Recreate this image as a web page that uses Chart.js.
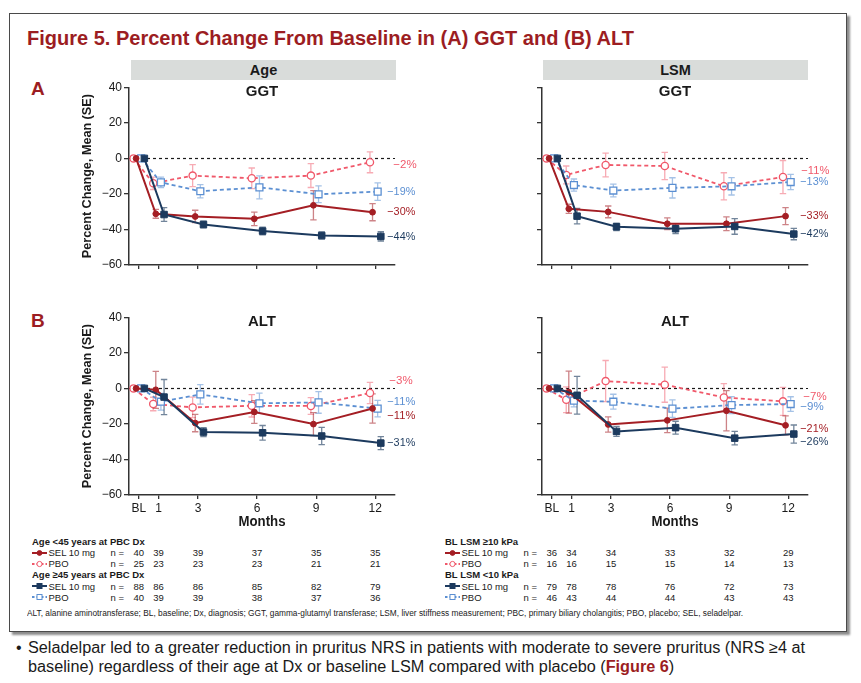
<!DOCTYPE html>
<html>
<head>
<meta charset="utf-8">
<script src="https://cdn.jsdelivr.net/npm/chart.js@4.4.0/dist/chart.umd.min.js"></script>
<style>
html,body{margin:0;padding:0;background:#fff;width:861px;height:683px;overflow:hidden;font-family:"Liberation Sans",Arial,sans-serif;}
#page{position:relative;width:861px;height:683px;}
.abs{position:absolute;white-space:nowrap;}
#box{position:absolute;left:9px;top:13px;width:838px;height:619px;box-sizing:border-box;border:1.6px solid #4a4a4a;box-shadow:3px 3px 2px rgba(0,0,0,0.45);background:#fff;}
.hdr{position:absolute;height:20px;background:#d9dcda;font:bold 14.5px "Liberation Sans",Arial,sans-serif;line-height:20px;text-align:center;color:#1a1a1a;}
.mk{position:absolute;line-height:0;}
.mk svg{display:block;}
</style>
</head>
<body>
<div id="page"><div id="box"></div></div>
<script>
// ---------------- DATA ----------------
const months = [0, 1, 3, 6, 9, 12];
const xTickLabels = ['BL', '1', '3', '6', '9', '12'];
const yTicks = [40, 20, 0, -20, -40, -60];

// (A) GGT by Age
const ggtAgeSelLt45   = [0, -31.2, -32.7, -34.0, -26.4, -30.3];
const ggtAgeSelLt45Se = [0, 2.5, 3.5, 3.8, 8.2, 4.8];
const ggtAgePboLt45   = [0, -14.0, -9.7, -11.2, -9.7, -2.2];
const ggtAgePboLt45Se = [0, 3.5, 6.2, 5.8, 6.7, 5.9];
const ggtAgeSelGe45   = [0, -31.6, -37.2, -40.9, -43.4, -43.9];
const ggtAgeSelGe45Se = [0, 3.9, 1.9, 2.2, 2.0, 2.6];
const ggtAgePboGe45   = [0, -13.5, -18.5, -16.3, -20.2, -18.7];
const ggtAgePboGe45Se = [0, 3.0, 3.7, 6.5, 4.7, 4.9];
const ggtAgeEndLabels = ['−30%', '−2%', '−44%', '−19%']; // selLt45, pboLt45, selGe45, pboGe45

// (A) GGT by LSM
const ggtLsmSelGe10   = [0, -28.4, -30.1, -36.8, -36.8, -32.5];
const ggtLsmSelGe10Se = [0, 2.6, 3.3, 3.3, 3.9, 4.8];
const ggtLsmPboGe10   = [0, -9.3, -3.7, -4.3, -15.7, -10.5];
const ggtLsmPboGe10Se = [0, 5.0, 6.7, 7.7, 7.6, 9.3];
const ggtLsmSelLt10   = [0, -32.5, -38.5, -39.6, -38.3, -42.6];
const ggtLsmSelLt10Se = [0, 4.4, 2.1, 2.7, 4.4, 3.2];
const ggtLsmPboLt10   = [0, -15.0, -18.1, -16.6, -15.7, -13.3];
const ggtLsmPboLt10Se = [0, 3.4, 3.6, 5.7, 4.9, 4.3];
const ggtLsmEndLabels = ['−33%', '−11%', '−42%', '−13%'];

// (B) ALT by Age
const altAgeSelLt45   = [0, -0.8, -19.5, -13.3, -20.1, -11.3];
const altAgeSelLt45Se = [0, 10.4, 4.9, 6.4, 6.5, 8.2];
const altAgePboLt45   = [0, -8.8, -10.7, -9.8, -9.9, -2.6];
const altAgePboLt45Se = [0, 3.8, 5.8, 6.3, 4.7, 6.0];
const altAgeSelGe45   = [0, -4.9, -24.6, -25.0, -26.8, -30.8];
const altAgeSelGe45Se = [0, 9.9, 2.5, 4.1, 4.9, 3.7];
const altAgePboGe45   = [0, -7.5, -3.4, -8.4, -7.9, -11.4];
const altAgePboGe45Se = [0, 4.7, 5.5, 5.7, 6.1, 4.6];
const altAgeEndLabels = ['−11%', '−3%', '−31%', '−11%'];

// (B) ALT by LSM
const altLsmSelGe10   = [0, -2.1, -20.3, -18.0, -12.6, -20.8];
const altLsmSelGe10Se = [0, 11.8, 4.3, 6.9, 11.3, 5.3];
const altLsmPboGe10   = [0, -6.4, 4.1, 2.1, -5.1, -7.3];
const altLsmPboGe10Se = [0, 7.3, 11.6, 9.9, 7.8, 7.9];
const altLsmSelLt10   = [0, -3.9, -24.2, -22.1, -28.0, -25.7];
const altLsmSelLt10Se = [0, 10.6, 2.8, 3.6, 3.8, 5.1];
const altLsmPboLt10   = [0, -6.9, -7.5, -11.4, -9.4, -8.8];
const altLsmPboLt10Se = [0, 3.5, 4.2, 4.9, 4.8, 4.1];
const altLsmEndLabels = ['−21%', '−7%', '−26%', '−9%'];

// Patients at risk (n)
const nAgeLt45Sel = [40, 39, 39, 37, 35, 35];
const nAgeLt45Pbo = [25, 23, 23, 23, 21, 21];
const nAgeGe45Sel = [88, 86, 86, 85, 82, 79];
const nAgeGe45Pbo = [40, 39, 39, 38, 37, 36];
const nLsmGe10Sel = [36, 34, 34, 33, 32, 29];
const nLsmGe10Pbo = [16, 16, 15, 15, 14, 13];
const nLsmLt10Sel = [79, 78, 78, 76, 72, 73];
const nLsmLt10Pbo = [46, 43, 44, 44, 43, 43];

// ---------------- STYLE ----------------
const FONT = '"Liberation Sans", Arial, sans-serif';
const DARKRED = '#9c1d22';
const STY = {
  selNavy: {color:'#1c3a5e', err:'rgba(28,58,94,0.62)', point:'rect',   r:4.6, fill:true,  dash:[],    dx: 0.28, lw:2},
  selRed:  {color:'#a41e24', err:'rgba(164,30,36,0.55)', point:'circle', r:2.9, fill:true,  dash:[],    dx:-0.14, lw:2},
  pboBlue: {color:'#5b8fd2', err:'rgba(91,143,210,0.55)', point:'rect',  r:4.9, fill:false, dash:[4,3], dx: 0.12, lw:1.8},
  pboPink: {color:'#f0586a', err:'rgba(240,88,106,0.5)', point:'circle', r:3.6, fill:false, dash:[4,3], dx:-0.27, lw:1.8}
};

Chart.defaults.font.family = FONT;
const page = document.getElementById('page');

function addText(text, x, cy, o = {}) {
  const size = o.size || 12;
  const el = document.createElement('div');
  el.className = 'abs';
  el.style.font = `${o.bold ? 'bold ' : ''}${size}px ${FONT}`;
  el.style.lineHeight = size + 'px';
  el.style.color = o.color || '#1a1a1a';
  el.style.top = (cy - size / 2) + 'px';
  if (o.html) el.innerHTML = text; else el.textContent = text;
  page.appendChild(el);
  const w = el.getBoundingClientRect().width;
  let sx = o.scale || 1;
  if (o.fitW) sx = o.fitW / w;
  let left = x;
  if (o.align === 'center') left = x - w * sx / 2;
  else if (o.align === 'right') left = x - w * sx;
  el.style.left = left + 'px';
  if (sx !== 1) { el.style.transformOrigin = '0 50%'; el.style.transform = `scaleX(${sx})`; }
  el._sx = sx;
  return el;
}

// ---------------- STATIC TEXT ----------------
addText('Figure 5. Percent Change From Baseline in (A) GGT and (B) ALT', 27, 38, {size:20, bold:true, color:DARKRED, fitW:607});
addText('A', 31, 88.5, {size:19, bold:true, color:DARKRED});
addText('B', 31, 320, {size:19, bold:true, color:DARKRED});

function header(text, l, r) {
  const d = document.createElement('div');
  d.className = 'hdr';
  d.style.left = l + 'px'; d.style.top = '60px'; d.style.width = (r - l) + 'px';
  d.textContent = text;
  page.appendChild(d);
}
header('Age', 131, 396);
header('LSM', 543, 808);

// ---------------- PLUGINS ----------------
const overlay = {
  id: 'overlay',
  beforeDatasetsDraw(chart, args, o) {
    const {ctx, chartArea: a, scales: {x, y}} = chart;
    ctx.save();
    ctx.strokeStyle = '#1a1a1a'; ctx.lineWidth = 1.2; ctx.setLineDash([3, 3]);
    const y0 = Math.round(y.getPixelForValue(0)) + 0.5;
    ctx.beginPath(); ctx.moveTo(a.left, y0); ctx.lineTo(a.right, y0); ctx.stroke();
    ctx.setLineDash([]);
    // error bars (drawn back to front)
    for (let di = chart.data.datasets.length - 1; di >= 0; di--) {
      const ds = chart.data.datasets[di];
      ctx.strokeStyle = ds.errColor; ctx.lineWidth = 1.3;
      ds.data.forEach((p, i) => {
        const e = ds.se[i];
        if (!e) return;
        const px = x.getPixelForValue(p.x);
        const y1 = y.getPixelForValue(p.y + e), y2 = y.getPixelForValue(p.y - e);
        ctx.beginPath();
        ctx.moveTo(px, y1); ctx.lineTo(px, y2);
        ctx.moveTo(px - 3.2, y1); ctx.lineTo(px + 3.2, y1);
        ctx.moveTo(px - 3.2, y2); ctx.lineTo(px + 3.2, y2);
        ctx.stroke();
      });
    }
    ctx.restore();
  },
  afterDraw(chart, args, o) {
    const {ctx, chartArea: a, scales: {x, y}} = chart;
    const cx = (a.left + a.right) / 2;
    ctx.save();
    ctx.fillStyle = '#1a1a1a';
    ctx.textAlign = 'center'; ctx.textBaseline = 'middle';
    ctx.font = `bold 15px ${FONT}`;
    ctx.fillText(o.title, cx, a.top + 5, 33);
    if (o.yTitle) {
      ctx.save();
      ctx.translate(o.yTitleX, (a.top + a.bottom) / 2);
      ctx.rotate(-Math.PI / 2);
      ctx.font = `bold 13px ${FONT}`;
      ctx.fillText(o.yTitle, 0, 0, 164);
      ctx.restore();
    }
    if (o.xTitle) {
      ctx.font = `bold 14px ${FONT}`;
      ctx.fillText(o.xTitle, cx, a.bottom + 27, 47);
    }
    // end labels
    ctx.textAlign = 'left';
    ctx.font = `11.5px ${FONT}`;
    const lastX = x.getPixelForValue(months[months.length - 1]);
    chart.data.datasets.forEach(ds => {
      const last = ds.data[ds.data.length - 1];
      const n = (o.nudge && o.nudge[ds.sty]) || {};
      ctx.fillStyle = ds.borderColor;
      ctx.fillText(ds.endLabel, lastX + 12 + (n.dx || 0), y.getPixelForValue(last.y) + (n.dy || 0), 28);
    });
    ctx.restore();
  }
};

// ---------------- CHARTS ----------------
function makeChart(p) {
  const c = document.createElement('canvas');
  c.width = p.w; c.height = p.h;
  c.style.cssText = `position:absolute;left:${p.left}px;top:${p.top}px;width:${p.w}px;height:${p.h}px;`;
  page.appendChild(c);
  const datasets = p.series.map(s => {
    const st = STY[s.sty];
    return {
      sty: s.sty,
      data: months.map((m, i) => ({x: m + st.dx, y: s.v[i]})),
      se: s.e,
      endLabel: s.label,
      errColor: st.err,
      borderColor: st.color,
      backgroundColor: st.color,
      borderWidth: st.lw,
      borderDash: st.dash,
      pointStyle: st.point,
      pointRadius: st.r,
      pointBorderWidth: st.fill ? 1 : 1.3,
      pointBorderColor: st.color,
      pointBackgroundColor: st.fill ? st.color : '#ffffff',
      tension: 0,
      fill: false
    };
  });
  const chart = new Chart(c, {
    type: 'line',
    data: {datasets},
    options: {
      responsive: false, animation: false, devicePixelRatio: 1,
      layout: {padding: {top: p.padTop, right: 45, bottom: 0, left: 0}},
      plugins: {legend: {display: false}, tooltip: {enabled: false}, overlay: p.overlay},
      scales: {
        x: {
          type: 'linear', min: -0.5, max: 13,
          afterBuildTicks: s => { s.ticks = months.map(v => ({value: v})); },
          afterFit: s => { s.height = p.xH; },
          grid: {drawOnChartArea: false, drawTicks: true, tickLength: 4, color: '#333', lineWidth: 1.3},
          border: {display: true, color: '#333', width: 1.5},
          ticks: {
            autoSkip: false, maxRotation: 0, padding: 2,
            color: p.showX ? '#1a1a1a' : 'rgba(0,0,0,0)',
            font: {size: 12},
            callback: v => { const i = months.indexOf(v); return i >= 0 ? xTickLabels[i] : ''; }
          }
        },
        y: {
          min: -60, max: 40,
          afterBuildTicks: s => { s.ticks = yTicks.slice().reverse().map(v => ({value: v})); },
          afterFit: s => { s.width = 89; },
          grid: {drawOnChartArea: false, drawTicks: true, tickLength: 5, color: '#333', lineWidth: 1.3},
          border: {display: true, color: '#333', width: 1.5},
          ticks: {
            padding: 2,
            color: p.showY ? '#1a1a1a' : 'rgba(0,0,0,0)',
            font: {size: 12},
            callback: v => String(v).replace('-', '−')
          }
        }
      }
    },
    plugins: [overlay]
  });
  chart._left = p.left;
  return chart;
}

const YT = 'Percent Change, Mean (SE)';
const cTL = makeChart({
  left: 40, top: 75, w: 400, h: 200, padTop: 12.3, xH: 10, showX: false, showY: true,
  series: [
    {sty: 'selNavy', v: ggtAgeSelGe45, e: ggtAgeSelGe45Se, label: ggtAgeEndLabels[2]},
    {sty: 'selRed',  v: ggtAgeSelLt45, e: ggtAgeSelLt45Se, label: ggtAgeEndLabels[0]},
    {sty: 'pboBlue', v: ggtAgePboGe45, e: ggtAgePboGe45Se, label: ggtAgeEndLabels[3]},
    {sty: 'pboPink', v: ggtAgePboLt45, e: ggtAgePboLt45Se, label: ggtAgeEndLabels[1]}
  ],
  overlay: {title: 'GGT', yTitle: YT, yTitleX: 47, nudge: {pboPink: {dx: 6, dy: 2.5}}}
});
const cTR = makeChart({
  left: 453, top: 75, w: 400, h: 200, padTop: 12.3, xH: 10, showX: false, showY: false,
  series: [
    {sty: 'selNavy', v: ggtLsmSelLt10, e: ggtLsmSelLt10Se, label: ggtLsmEndLabels[2]},
    {sty: 'selRed',  v: ggtLsmSelGe10, e: ggtLsmSelGe10Se, label: ggtLsmEndLabels[0]},
    {sty: 'pboBlue', v: ggtLsmPboLt10, e: ggtLsmPboLt10Se, label: ggtLsmEndLabels[3]},
    {sty: 'pboPink', v: ggtLsmPboGe10, e: ggtLsmPboGe10Se, label: ggtLsmEndLabels[1]}
  ],
  overlay: {title: 'GGT', nudge: {pboPink: {dx: 1, dy: -6}}}
});
const cBL = makeChart({
  left: 40, top: 305, w: 400, h: 225, padTop: 12.3, xH: 35, showX: true, showY: true,
  series: [
    {sty: 'selNavy', v: altAgeSelGe45, e: altAgeSelGe45Se, label: altAgeEndLabels[2]},
    {sty: 'selRed',  v: altAgeSelLt45, e: altAgeSelLt45Se, label: altAgeEndLabels[0]},
    {sty: 'pboBlue', v: altAgePboGe45, e: altAgePboGe45Se, label: altAgeEndLabels[3]},
    {sty: 'pboPink', v: altAgePboLt45, e: altAgePboLt45Se, label: altAgeEndLabels[1]}
  ],
  overlay: {title: 'ALT', yTitle: YT, yTitleX: 47, xTitle: 'Months',
            nudge: {pboPink: {dx: 2, dy: -12}, pboBlue: {dy: -7}, selRed: {dy: 7}}}
});
const cBR = makeChart({
  left: 453, top: 305, w: 400, h: 225, padTop: 12.3, xH: 35, showX: true, showY: false,
  series: [
    {sty: 'selNavy', v: altLsmSelLt10, e: altLsmSelLt10Se, label: altLsmEndLabels[2]},
    {sty: 'selRed',  v: altLsmSelGe10, e: altLsmSelGe10Se, label: altLsmEndLabels[0]},
    {sty: 'pboBlue', v: altLsmPboLt10, e: altLsmPboLt10Se, label: altLsmEndLabels[3]},
    {sty: 'pboPink', v: altLsmPboGe10, e: altLsmPboGe10Se, label: altLsmEndLabels[1]}
  ],
  overlay: {title: 'ALT', xTitle: 'Months',
            nudge: {pboPink: {dx: 3, dy: -5}, pboBlue: {dy: 3}, selRed: {dy: 3}, selNavy: {dy: 8}}}
});

// ---------------- N-AT-RISK TABLE ----------------
function marker(sty, x, cy) {
  const st = STY[sty];
  const dash = st.dash.length ? 'stroke-dasharray="2.5,2"' : '';
  let pt;
  if (st.point === 'circle') {
    pt = `<circle cx="7.5" cy="4" r="${st.fill ? 2.4 : 2.6}" fill="${st.fill ? st.color : '#fff'}" stroke="${st.color}" stroke-width="1"/>`;
  } else {
    pt = `<rect x="5" y="1.5" width="5" height="5" fill="${st.fill ? st.color : '#fff'}" stroke="${st.color}" stroke-width="1"/>`;
  }
  const d = document.createElement('div');
  d.className = 'mk';
  d.style.left = x + 'px'; d.style.top = (cy - 4) + 'px';
  d.innerHTML = `<svg width="15" height="8" viewBox="0 0 15 8"><line x1="0" y1="4" x2="15" y2="4" stroke="${st.color}" stroke-width="2" ${dash}/>${pt}</svg>`;
  page.appendChild(d);
}

function table(chart, x0, headers, rows) {
  const xs = months.map(m => chart._left + chart.scales.x.getPixelForValue(m));
  const rowY = [541.3, 553, 563.8, 574.8, 586.3, 597.3];
  addText(headers[0], x0, rowY[0], {size: 9.5, bold: true});
  addText(headers[1], x0, rowY[3], {size: 9.5, bold: true});
  const slots = [1, 2, 4, 5];
  rows.forEach((r, k) => {
    const cy = rowY[slots[k]];
    marker(r.sty, x0 - 0.5, cy);
    addText(r.name, x0 + 16.5, cy, {size: 9.5});
    addText('n =', x0 + 78.5, cy, {size: 9.5});
    r.n.forEach((v, i) => addText(String(v), xs[i], cy, {size: 9.5, align: 'center'}));
  });
}
table(cBL, 32, ['Age <45 years at PBC Dx', 'Age ≥45 years at PBC Dx'], [
  {sty: 'selRed', name: 'SEL 10 mg', n: nAgeLt45Sel},
  {sty: 'pboPink', name: 'PBO', n: nAgeLt45Pbo},
  {sty: 'selNavy', name: 'SEL 10 mg', n: nAgeGe45Sel},
  {sty: 'pboBlue', name: 'PBO', n: nAgeGe45Pbo}
]);
table(cBR, 445, ['BL LSM ≥10 kPa', 'BL LSM <10 kPa'], [
  {sty: 'selRed', name: 'SEL 10 mg', n: nLsmGe10Sel},
  {sty: 'pboPink', name: 'PBO', n: nLsmGe10Pbo},
  {sty: 'selNavy', name: 'SEL 10 mg', n: nLsmLt10Sel},
  {sty: 'pboBlue', name: 'PBO', n: nLsmLt10Pbo}
]);

addText('ALT, alanine aminotransferase; BL, baseline; Dx, diagnosis; GGT, gamma-glutamyl transferase; LSM, liver stiffness measurement; PBC, primary biliary cholangitis; PBO, placebo; SEL, seladelpar.',
  27, 613, {size: 8.5, fitW: 716});

// ---------------- BULLET ----------------
addText('•', 16, 648, {size: 16});
const l1 = addText('Seladelpar led to a greater reduction in pruritus NRS in patients with moderate to severe pruritus (NRS ≥4 at',
  28, 648, {size: 16, fitW: 777});
addText('baseline) regardless of their age at Dx or baseline LSM compared with placebo (<span style="color:' + DARKRED + ';font-weight:bold">Figure 6</span>)',
  28, 667, {size: 16, html: true, scale: l1._sx});
</script>
</body>
</html>
